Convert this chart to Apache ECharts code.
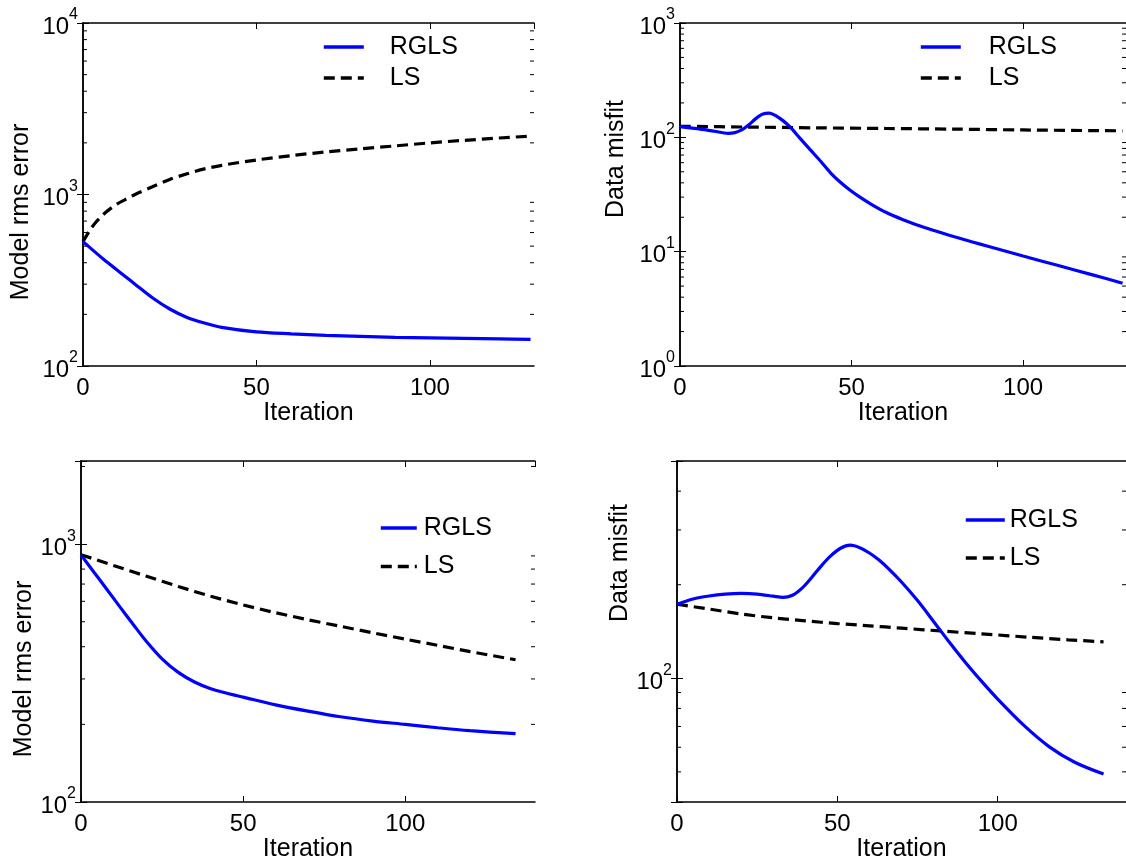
<!DOCTYPE html>
<html><head><meta charset="utf-8">
<script src="https://cdn.jsdelivr.net/npm/echarts@6/dist/echarts.min.js"></script>
<style>html,body{margin:0;padding:0;background:#fff}#c{width:1126px;height:864px}</style>
</head><body><div id="c"></div>
<script>
// ---------- data ----------
// Panel A (top-left): Model rms error
const iterA = [0,2,4,6,8,10,12,15,20,25,30,35,40,50,60,70,80,90,100,110,120,129];
const rglsA = [531,490,452,418,388,360,335,300,250,215,192,178,168,158,154,151,149,147,146,145,144,143];
const lsA   = [531,620,700,770,830,885,930,1000,1110,1225,1320,1410,1480,1590,1685,1770,1845,1920,2000,2070,2135,2190];
// Panel B (top-right): Data misfit
const iterB    = [0,5,10,14,16,18,20,22,24,26,28,30,32,35,38,41,44,47,50,53,56,60,65,70,75,80,85,90,100,110,120,129];
const rglsB    = [124,119,113,108.5,110,116,128,145,159,163,154,140,124,98,77.6,61.7,48.4,39.8,33.7,29.2,25.7,22.1,19.05,16.8,15.0,13.5,12.2,11.1,9.16,7.6,6.3,5.3];
const iterBls  = [0,20,40,60,80,100,129];
const lsB      = [125,123,121,119.5,118,116,114];
// Panel C (bottom-left): Model rms error
const iterC    = [0,4,8,12,16,20,25,30,35,40,45,50,60,70,80,90,100,110,120,134];
const rglsC    = [908,778,667,571,490,422,359,318,292,275,264,255,238,225,214,206,200,194,189,184];
const iterCls  = [0,10,20,30,40,50,60,70,80,90,100,110,120,134];
const lsC      = [910,826,752,685,628,581,542,509,480,453,428,405,383,356];
// Panel D (bottom-right): Data misfit
const iterD    = [0,5,10,15,20,25,30,33,36,39,42,45,48,51,54,57,60,63,66,70,75,80,85,90,95,100,108,116,124,133];
const rglsD    = [173,180,184,186.5,187.5,186.6,183.7,182,185,195,211,230,248,262,268,263,253,240,224.9,204,177.8,152.4,130.3,112.2,97.7,85.7,70.8,60.3,53.7,49.2];
const iterDls  = [0,10,20,30,40,50,60,70,82,95,110,122,133];
const lsD      = [173,167,161,156.5,153,150,147.5,145,142,139,135.5,133,131];

// axis ranges / ticks
const xTicks = [0, 50, 100];
const minorA = [200,300,400,500,600,700,800,900,2000,3000,4000,5000,6000,7000,8000,9000];
const minorB = [2,3,4,5,6,7,8,9,20,30,40,50,60,70,80,90,200,300,400,500,600,700,800,900];
const minorC = [200,300,400,500,600,700,800,900,2000];
const minorD = [50,60,70,80,90,200,300,400];
const seriesNames = ['RGLS', 'LS'];
const xNames = ['Iteration','Iteration','Iteration','Iteration'];
const yNames = ['Model rms error','Data misfit','Model rms error','Data misfit'];

// ---------- layout ----------
const FONT = '"Liberation Sans", Arial, Helvetica, sans-serif';
const panels = [
  {grid:{left:83, top:23, width:451, height:343}, xmax:130, ymin:100, ymax:10000,
   it:iterA, r:rglsA, itl:iterA, l:lsA, minor:minorA,
   legend:{left:322, top:34.5, gap:6, w:40, pad:21}, nameGap:49, namePad:[0,35,0,0]},
  {grid:{left:680, top:23, width:451, height:343}, xmax:130, ymin:1, ymax:1000,
   it:iterB, r:rglsB, itl:iterBls, l:lsB, minor:minorB,
   legend:{left:919, top:34.5, gap:6, w:40, pad:23}, nameGap:51, namePad:[0,0,0,71]},
  {grid:{left:81, top:461, width:454, height:341}, xmax:140, ymin:100, ymax:2100,
   it:iterC, r:rglsC, itl:iterCls, l:lsC, minor:minorC,
   legend:{left:379, top:515.5, gap:13.5, w:36, pad:2}, nameGap:25, namePad:[0,75,0,0]},
  {grid:{left:677, top:461, width:454, height:341}, xmax:140, ymin:40, ymax:500,
   it:iterD, r:rglsD, itl:iterDls, l:lsD, minor:minorD,
   legend:{left:964, top:507.5, gap:13, w:39, pad:0}, nameGap:28, namePad:[0,0,0,137]}
];

function supFmt(v) {
  const lg = Math.log10(v);
  const e = Math.round(lg);
  if (Math.abs(lg - e) > 1e-6) return '';
  return '{b|10}{s|' + e + '}';
}
const rich = {
  b: {fontSize: 24, fontFamily: FONT, color: '#000', padding: [8, 0, 0, 0]},
  s: {fontSize: 16, fontFamily: FONT, color: '#000', verticalAlign: 'top'}
};
const lineAx = {lineStyle: {color: '#000', width: 1.5}};
const tickIn = {show: true, inside: true, length: 6, lineStyle: {color: '#000', width: 1}};
const dash = [11, 6];

const option = {
  animation: false,
  backgroundColor: '#fff',
  grid: [], xAxis: [], yAxis: [], series: [], legend: []
};

panels.forEach((p, i) => {
  option.grid.push(Object.assign({show: false}, p.grid));
  option.xAxis.push({
    type: 'value', gridIndex: i, min: 0, max: p.xmax, interval: 50, position: 'bottom',
    axisLine: lineAx, axisTick: tickIn, splitLine: {show: false},
    axisLabel: {color: '#000', fontSize: 24, fontFamily: FONT, margin: 10,
      formatter: v => (xTicks.indexOf(v) >= 0 ? String(v) : ''), showMaxLabel: false},
    name: xNames[i], nameLocation: 'middle', nameGap: 30,
    nameTextStyle: {color: '#000', fontSize: 25, fontFamily: FONT}
  });
  option.xAxis.push({
    type: 'value', gridIndex: i, min: 0, max: p.xmax, interval: 50, position: 'top',
    axisLine: lineAx, axisTick: tickIn, axisLabel: {show: false}, splitLine: {show: false}
  });
  option.yAxis.push({
    type: 'log', logBase: 10, gridIndex: i, min: p.ymin, max: p.ymax, position: 'left',
    axisLine: lineAx, axisTick: tickIn, splitLine: {show: false}, minorTick: {show: false},
    axisLabel: {formatter: supFmt, rich: rich, margin: 5, color: '#000'},
    name: yNames[i], nameLocation: 'middle', nameRotate: 90, nameGap: p.nameGap,
    nameTextStyle: {color: '#000', fontSize: 25, fontFamily: FONT, lineHeight: 25, padding: p.namePad}
  });
  option.yAxis.push({
    type: 'log', logBase: 10, gridIndex: i, min: p.ymin, max: p.ymax, position: 'right',
    axisLine: lineAx, axisTick: tickIn, axisLabel: {show: false}, splitLine: {show: false}
  });
  const xi = 2 * i, yi = 2 * i;
  option.series.push({
    type: 'line', name: seriesNames[0], xAxisIndex: xi, yAxisIndex: yi,
    data: p.it.map((x, k) => [x, p.r[k]]), smooth: 0.3, symbol: 'none', showSymbol: false,
    lineStyle: {color: '#0000ff', width: 3.2}, itemStyle: {color: '#0000ff'}, z: 3
  });
  option.series.push({
    type: 'line', name: seriesNames[1], xAxisIndex: xi, yAxisIndex: yi,
    data: p.itl.map((x, k) => [x, p.l[k]]), smooth: 0.3, symbol: 'none', showSymbol: false,
    lineStyle: {color: '#000', width: 3.2, type: dash}, itemStyle: {color: '#000'}, z: 2
  });
  option.series.push({
    type: 'custom', name: 'minorTicks' + i, xAxisIndex: xi, yAxisIndex: yi, silent: true, clip: false,
    data: p.minor.map(v => [0, v]), encode: {x: 0, y: 1}, z: 4,
    renderItem: function (params, api) {
      const cs = params.coordSys;
      const y = api.coord([api.value(0), api.value(1)])[1];
      const L = 4;
      return {type: 'group', children: [
        {type: 'line', shape: {x1: cs.x, y1: y, x2: cs.x + L, y2: y}, style: {stroke: '#000', lineWidth: 1}},
        {type: 'line', shape: {x1: cs.x + cs.width - L, y1: y, x2: cs.x + cs.width, y2: y}, style: {stroke: '#000', lineWidth: 1}}
      ]};
    }
  });
  option.legend.push({
    data: seriesNames, orient: 'vertical', left: p.legend.left, top: p.legend.top,
    itemWidth: p.legend.w, itemHeight: 14, itemGap: p.legend.gap, selectedMode: false,
    padding: 0,
    itemStyle: {opacity: 0},
    lineStyle: {width: 3.6},
    textStyle: {color: '#000', fontSize: 25, fontFamily: FONT, lineHeight: 25, padding: [0, 0, 0, p.legend.pad]}
  });
});

const chart = echarts.init(document.getElementById('c'), null, {renderer: 'canvas'});
chart.setOption(option);
</script></body></html>
